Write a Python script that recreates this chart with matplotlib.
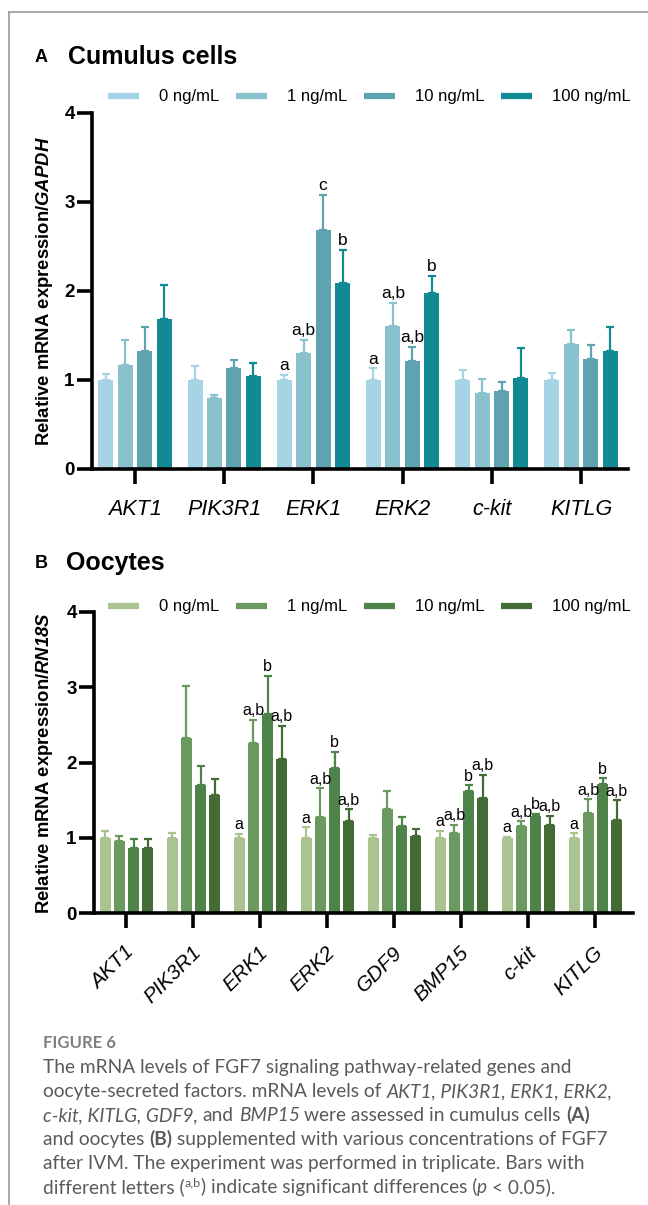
import matplotlib
matplotlib.use('Agg')
import matplotlib.pyplot as plt
import numpy as np
from matplotlib.lines import Line2D
from matplotlib.transforms import ScaledTranslation

plt.rcParams['font.family'] = ['Liberation Sans', 'DejaVu Sans']
plt.rcParams['mathtext.fontset'] = 'custom'
plt.rcParams['mathtext.rm'] = 'Liberation Sans'
plt.rcParams['mathtext.it'] = 'Liberation Sans:italic'
plt.rcParams['mathtext.bf'] = 'Liberation Sans:bold'
plt.rcParams['mathtext.bfit'] = 'Liberation Sans:italic:bold'

# ---- data -------------------------------------------------------------
conc = ['0 ng/mL', '1 ng/mL', '10 ng/mL', '100 ng/mL']

genes_a = ['AKT1', 'PIK3R1', 'ERK1', 'ERK2', 'c-kit', 'KITLG']
mean_a_0 = [1.00, 1.00, 1.00, 1.00, 1.00, 1.00]
mean_a_1 = [1.17, 0.80, 1.30, 1.61, 0.85, 1.40]
mean_a_10 = [1.33, 1.13, 2.69, 1.21, 0.88, 1.24]
mean_a_100 = [1.69, 1.04, 2.09, 1.98, 1.02, 1.33]
err_a_0 = [0.07, 0.16, 0.06, 0.13, 0.11, 0.08]
err_a_1 = [0.28, 0.03, 0.15, 0.26, 0.16, 0.16]
err_a_10 = [0.26, 0.10, 0.39, 0.16, 0.10, 0.15]
err_a_100 = [0.38, 0.15, 0.37, 0.19, 0.34, 0.27]
let_a_0 = ['', '', 'a', 'a', '', '']
let_a_1 = ['', '', 'a,b', 'a,b', '', '']
let_a_10 = ['', '', 'c', 'a,b', '', '']
let_a_100 = ['', '', 'b', 'b', '', '']

genes_b = ['AKT1', 'PIK3R1', 'ERK1', 'ERK2', 'GDF9', 'BMP15', 'c-kit', 'KITLG']
mean_b_0 = [1.00, 1.00, 1.00, 1.00, 1.00, 1.00, 1.00, 1.00]
mean_b_1 = [0.96, 2.32, 2.26, 1.28, 1.38, 1.06, 1.16, 1.33]
mean_b_10 = [0.87, 1.70, 2.65, 1.93, 1.15, 1.62, 1.29, 1.71]
mean_b_100 = [0.87, 1.57, 2.05, 1.22, 1.02, 1.53, 1.17, 1.24]
err_b_0 = [0.09, 0.06, 0.05, 0.14, 0.04, 0.09, 0.01, 0.06]
err_b_1 = [0.06, 0.70, 0.31, 0.38, 0.24, 0.11, 0.06, 0.18]
err_b_10 = [0.11, 0.26, 0.50, 0.21, 0.13, 0.08, 0.03, 0.08]
err_b_100 = [0.11, 0.21, 0.44, 0.16, 0.10, 0.31, 0.12, 0.26]
let_b_0 = ['', '', 'a', 'a', '', 'a', 'a', 'a']
let_b_1 = ['', '', 'a,b', 'a,b', '', 'a,b', 'a,b', 'a,b']
let_b_10 = ['', '', 'b', 'b', '', 'b', 'b', 'b']
let_b_100 = ['', '', 'a,b', 'a,b', '', 'a,b', 'a,b', 'a,b']

colors_a = ['#a7d4e4', '#89c1cc', '#5ea3af', '#128a93']
colors_b = ['#a9c391', '#6b9a61', '#4e8449', '#436b36']

W, H = 648, 1205
fig = plt.figure(figsize=(W / 100, H / 100), dpi=100)


def px_axes(l, t, r, b):
    return fig.add_axes([l / W, 1 - b / H, (r - l) / W, (b - t) / H])


def draw_panel(ax, genes, means, errs, letters, colors, width, pitch, lsize):
    x = np.arange(len(genes))
    for j in range(4):
        xs = x + (j - 1.5) * pitch
        m = np.array(means[j])
        e = np.array(errs[j])
        ax.bar(xs, m, width=width, color=colors[j], zorder=2)
        ax.errorbar(xs, m, yerr=[np.zeros_like(e), e], fmt='none',
                    ecolor=colors[j], elinewidth=1.6, capsize=3,
                    capthick=1.6, zorder=1)
        for xi, top, t in zip(xs, m + e, letters[j]):
            if t:
                ax.text(xi, top + 0.02, t, ha='center', va='bottom',
                        fontsize=lsize, zorder=4)
    ax.set_ylim(0, 4)
    ax.set_yticks([0, 1, 2, 3, 4])
    ax.set_xticks(x)
    for s in ['top', 'right']:
        ax.spines[s].set_visible(False)
    for s in ['left', 'bottom']:
        ax.spines[s].set_linewidth(2.6)
    ax.tick_params(axis='both', direction='out', length=10.5, width=2.6)
    ax.tick_params(axis='y', pad=2, labelsize=13.5)
    for lab in ax.get_yticklabels():
        lab.set_fontweight('bold')


def legend_at(colors, y_px):
    handles = [Line2D([], [], color=c, lw=4.5, solid_capstyle='butt') for c in colors]
    fig.legend(handles, conc, loc='center left', bbox_to_anchor=(108 / W, 1 - y_px / H),
               ncol=4, frameon=False, fontsize=12, handlelength=1.86,
               handletextpad=1.2, columnspacing=1.0, borderpad=0, borderaxespad=0)


# ---- panel A ----------------------------------------------------------
ax_a = px_axes(92, 113, 628, 469)
draw_panel(ax_a, genes_a,
           [mean_a_0, mean_a_1, mean_a_10, mean_a_100],
           [err_a_0, err_a_1, err_a_10, err_a_100],
           [let_a_0, let_a_1, let_a_10, let_a_100],
           colors_a, 0.168, 0.218, 12.5)
ax_a.set_xlim(-0.482, 5.527)
ax_a.set_xticklabels(genes_a, fontstyle='italic', fontsize=15.5)
ax_a.tick_params(axis='x', pad=11)
ax_a.set_ylabel(r'Relative mRNA expression/$\mathbfit{GAPDH}$', fontweight='bold', fontsize=13.3)
ax_a.yaxis.set_label_coords((55 - 92) / 536, 0.5)
legend_at(colors_a, 97)
fig.text(35 / W, 1 - 57 / H, 'A', fontweight='bold', fontsize=13, va='center')
fig.text(68 / W, 1 - 57 / H, 'Cumulus cells', fontweight='bold', fontsize=18, va='center')

# ---- panel B ----------------------------------------------------------
ax_b = px_axes(94, 612, 633, 913)
draw_panel(ax_b, genes_b,
           [mean_b_0, mean_b_1, mean_b_10, mean_b_100],
           [err_b_0, err_b_1, err_b_10, err_b_100],
           [let_b_0, let_b_1, let_b_10, let_b_100],
           colors_b, 0.16, 0.212, 11.5)
ax_b.set_xlim(-0.485, 7.56)
ax_b.set_xticklabels(genes_b, fontstyle='italic', fontsize=15, rotation=45,
                     ha='right', rotation_mode='anchor')
ax_b.tick_params(axis='x', pad=11)
shift = ScaledTranslation(-2 / 100, 0, fig.dpi_scale_trans)
for lab in ax_b.get_xticklabels():
    lab.set_transform(lab.get_transform() + shift)
ax_b.set_ylabel(r'Relative mRNA expression/$\mathbfit{RN18S}$', fontweight='bold', fontsize=13.3)
ax_b.yaxis.set_label_coords((55 - 94) / 539, 0.5)
legend_at(colors_b, 607)
fig.text(35 / W, 1 - 563 / H, 'B', fontweight='bold', fontsize=13, va='center')
fig.text(66 / W, 1 - 563 / H, 'Oocytes', fontweight='bold', fontsize=18, va='center')

# ---- caption ----------------------------------------------------------
renderer = fig.canvas.get_renderer()
cap_font = ['Lato', 'DejaVu Sans']
cap_color = '#5a5a5a'
cap_size = 13.8


def text_w(s, **kw):
    t = fig.text(0, 0, s, **kw)
    w = t.get_window_extent(renderer).width
    t.remove()
    return w


def put_line(y_px, segs):
    x = 43
    space = text_w('a a', family=cap_font, fontsize=cap_size) - text_w('aa', family=cap_font, fontsize=cap_size)
    for s, style in segs:
        kw = dict(family=cap_font, fontsize=cap_size, color=cap_color, va='baseline')
        y = y_px
        if style == 'i':
            kw['fontstyle'] = 'italic'
        elif style == 'b':
            kw['fontweight'] = 'bold'
        elif style == 'sup':
            kw['fontsize'] = cap_size * 0.65
            y = y_px - 7
        lead = len(s) - len(s.lstrip(' '))
        trail = len(s) - len(s.rstrip(' '))
        x += lead * space
        t = fig.text(x / W, 1 - y / H, s.strip(' '), **kw)
        x = t.get_window_extent(renderer).x1 + trail * space


fig.text(43 / W, 1 - 1048 / H, 'FIGURE 6', family=cap_font, fontsize=12,
         fontweight='bold', color='#7f7f7f', va='baseline')
cap_lines = [
    [('The mRNA levels of FGF7 signaling pathway-related genes and', 'n')],
    [('oocyte-secreted factors. mRNA levels of ', 'n'), ('AKT1, PIK3R1, ERK1, ERK2,', 'i')],
    [('c-kit, KITLG, GDF9,', 'i'), (' and ', 'n'), ('BMP15', 'i'),
     (' were assessed in cumulus cells ', 'n'), ('(A)', 'b')],
    [('and oocytes ', 'n'), ('(B)', 'b'), (' supplemented with various concentrations of FGF7', 'n')],
    [('after IVM. The experiment was performed in triplicate. Bars with', 'n')],
    [('different letters (', 'n'), ('a,b', 'sup'), (') indicate significant differences (', 'n'),
     ('p', 'i'), (' < 0.05).', 'n')],
]
for k, segs in enumerate(cap_lines):
    put_line(1073 + 24 * k, segs)

# frame lines
fig.add_artist(Line2D([8.5 / W, 8.5 / W], [0, 1 - 12 / H], transform=fig.transFigure,
                      color='#9a9a9a', lw=1.2))
fig.add_artist(Line2D([8.5 / W, 1], [1 - 12 / H, 1 - 12 / H], transform=fig.transFigure,
                      color='#9a9a9a', lw=1.2))

fig.savefig('out.png', dpi=100)
